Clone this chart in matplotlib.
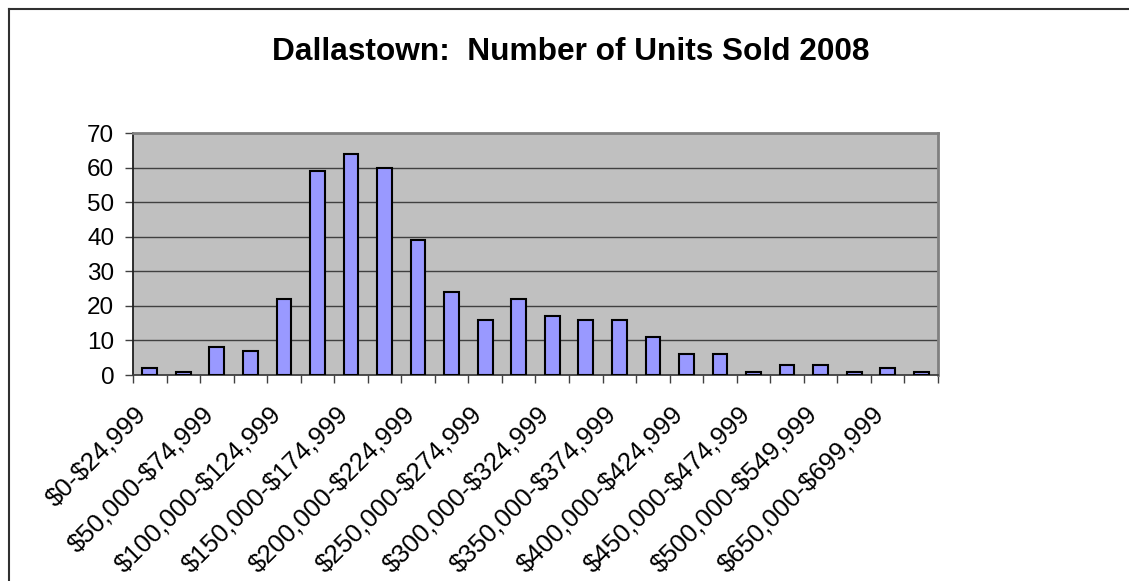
import numpy as np
import matplotlib
matplotlib.use("Agg")
from matplotlib import pyplot as plt
from matplotlib.lines import Line2D
from matplotlib.transforms import ScaledTranslation

plt.rcParams['font.family'] = ['Liberation Sans', 'DejaVu Sans']

# price bands (only every other one gets a label on the axis)
price_bands = [
    "$0-$24,999", "$25,000-$49,999", "$50,000-$74,999", "$75,000-$99,999",
    "$100,000-$124,999", "$125,000-$149,999", "$150,000-$174,999", "$175,000-$199,999",
    "$200,000-$224,999", "$225,000-$249,999", "$250,000-$274,999", "$275,000-$299,999",
    "$300,000-$324,999", "$325,000-$349,999", "$350,000-$374,999", "$375,000-$399,999",
    "$400,000-$424,999", "$425,000-$449,999", "$450,000-$474,999", "$475,000-$499,999",
    "$500,000-$549,999", "$550,000-$649,999", "$650,000-$699,999", "$700,000+",
]
units_sold = [2, 1, 8, 7, 22, 59, 64, 60, 39, 24, 16, 22,
              17, 16, 16, 11, 6, 6, 1, 3, 3, 1, 2, 1]
y_ticks = [0, 10, 20, 30, 40, 50, 60, 70]
title = "Dallastown:  Number of Units Sold 2008"

W, H = 1129, 581
fig = plt.figure(figsize=(W / 100, H / 100), dpi=100)
fig.patch.set_facecolor('white')

# plot area in pixel terms, converted to figure fractions
left, right, top, bottom = 133, 938, 133, 375
ax = fig.add_axes([left / W, 1 - bottom / H, (right - left) / W, (bottom - top) / H])
ax.set_facecolor('#C0C0C0')

x = np.arange(len(units_sold))
ax.bar(x, units_sold, width=0.44, color='#9999FF', edgecolor='black', linewidth=1.5, zorder=3)

ax.set_xlim(-0.5, len(units_sold) - 0.5)
ax.set_ylim(0, 70)
ax.set_yticks(y_ticks)
ax.set_yticklabels([str(v) for v in y_ticks], fontsize=17.5)
ax.yaxis.grid(True, color='#404040', linewidth=1.0, zorder=1)
ax.set_axisbelow(True)

# labels on every other category, tick marks on the category boundaries
# ($ escaped so mathtext leaves it alone)
ax.set_xticks(x[::2])
ax.set_xticklabels([b.replace('$', r'\$') for b in price_bands[::2]], fontsize=18.5,
                   rotation=45, ha='right', va='center', rotation_mode='anchor')
ax.set_xticks(np.arange(len(units_sold) + 1) - 0.5, minor=True)
ax.tick_params(axis='x', which='major', length=0, pad=25.5)
ax.tick_params(axis='x', which='minor', length=6, width=1, color='#404040', direction='out')
ax.tick_params(axis='y', length=5.5, width=1, color='#404040', pad=8)

# nudge the slanted labels a little left, like the original
shift = ScaledTranslation(-7 / 100, 0, fig.dpi_scale_trans)
for lab in ax.get_xticklabels():
    lab.set_transform(lab.get_transform() + shift)

ax.spines['left'].set_color('#202020')
ax.spines['bottom'].set_color('#404040')
ax.spines['top'].set_color('#808080')
ax.spines['right'].set_color('#808080')
for s in ax.spines.values():
    s.set_linewidth(1.3)
ax.spines['top'].set_linewidth(2)
ax.spines['right'].set_linewidth(2)

fig.text(571 / W, 1 - 52 / H, title, fontsize=22.8, fontweight='bold',
         ha='center', va='center')

# chart frame (only the left and top edges fall inside the picture)
fx, fy = 8.5 / W, 1 - 8.5 / H
fig.add_artist(Line2D([fx, fx], [0, fy], transform=fig.transFigure, color='#303030', linewidth=1.5))
fig.add_artist(Line2D([fx, 1], [fy, fy], transform=fig.transFigure, color='#303030', linewidth=1.5))

fig.savefig("out.png", dpi=100)
